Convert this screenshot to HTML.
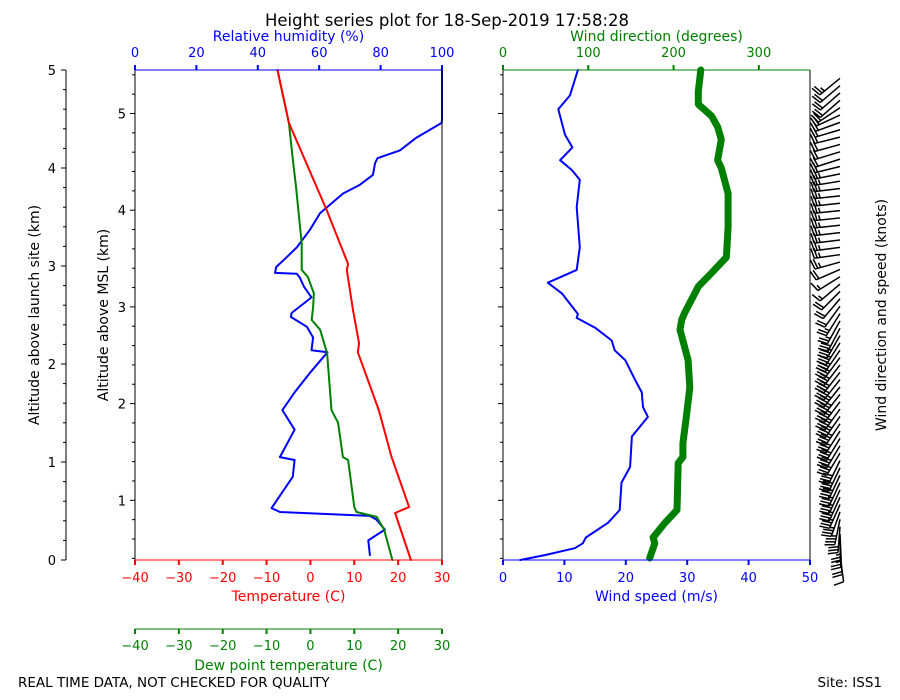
<!DOCTYPE html>
<html><head><meta charset="utf-8"><style>
body{margin:0;background:#fff}
svg{display:block;font-family:"DejaVu Sans","Liberation Sans",sans-serif}
</style></head><body>
<svg id="c" width="900" height="700" viewBox="0 0 900 700" xmlns="http://www.w3.org/2000/svg">
<text x="447" y="26" font-size="16.5" text-anchor="middle">Height series plot for 18-Sep-2019 17:58:28</text>
<text x="18" y="687" font-size="13.5">REAL TIME DATA, NOT CHECKED FOR QUALITY</text>
<text x="882" y="687" font-size="13.5" text-anchor="end">Site: ISS1</text>
<g id="g"></g>
</svg>
<script>
// Heights in km above launch site
const tH=[0,0.48,0.54,1.05,1.53,2.12,2.21,2.55,2.96,3.02,3.57,4.46,5.0];
const tV=[22.9,19.3,22.5,18.5,15.6,10.8,11.1,9.7,8.3,8.6,3.7,-4.9,-7.5];
const dH=[0,0.31,0.44,0.49,0.54,1.02,1.05,1.40,1.53,2.11,2.35,2.45,2.58,2.72,2.89,2.96,3.23,3.81,4.08,4.46,5.0];
const dV=[18.7,16.8,15.1,10.5,10,8.6,7.4,6.3,4.8,3.8,2.2,0.3,0.6,0.8,-0.6,-2,-2,-3.3,-4,-4.9,-7.5];
const rH=[0.05,0.2,0.31,0.41,0.45,0.49,0.53,0.85,1.02,1.05,1.33,1.53,1.71,1.91,2.12,2.14,2.27,2.38,2.48,2.52,2.68,2.79,2.88,2.92,2.93,2.99,3.09,3.19,3.37,3.54,3.74,3.83,3.93,4.05,4.1,4.18,4.31,4.46,4.5,5.0];
const rV=[76.5,76,81.4,78.7,76.5,47.2,44.5,51.4,52,47.2,52,48,52,57,62.7,57.5,58,56,50.8,51,57.5,55,53.7,52.7,45.6,46,49.4,52.7,57,60.3,67.8,73.3,77.5,78.2,79,86.3,91.7,99.9,100,100];
const sH=[0,0.05,0.12,0.17,0.23,0.38,0.51,0.79,0.95,1.26,1.46,1.56,1.71,1.84,2.04,2.14,2.24,2.37,2.47,2.51,2.72,2.83,2.96,3.19,3.6,3.88,3.98,4.08,4.21,4.34,4.6,4.74,5.0];
const sV=[2.8,6.8,11.7,13,13.5,17.1,19,19.3,20.7,21,23.6,22.8,22.6,21.5,19.9,18.2,17.7,15,12,12.2,9.6,7.3,12,12.5,12,12.5,11.2,9.3,11.3,10.1,9,10.9,12.2];
const wH=[0.02,0.17,0.23,0.38,0.51,0.99,1.05,1.19,1.46,1.76,2.04,2.35,2.45,2.52,2.79,2.93,3.09,3.4,3.74,4.0,4.08,4.29,4.42,4.53,4.65,4.78,5.0];
const wV=[172,178,176,190,204,205.5,211,211,215,219,217,207.5,209.5,213,229,244.6,262,264,264,256,251.6,256,251.6,244.6,229,229,232];
const tTicks=[-40,-30,-20,-10,0,10,20,30];
const rTicks=[0,20,40,60,80,100];
const sTicks=[0,10,20,30,40,50];
const wTicks=[0,100,200,300];
const aglTicks=[0,1,2,3,4,5];
const mslTicks=[1,2,3,4,5];

const NS="http://www.w3.org/2000/svg",G=document.getElementById('g');
function el(t,a,p){const e=document.createElementNS(NS,t);for(const k in a)e.setAttribute(k,a[k]);(p||G).appendChild(e);return e;}
const L0=135,L1=442,R0=503,R1=810,Y0=70,Y1=560;
const yA=h=>Y1-98*h;
const yM=m=>597-96.7*m;
const xT=v=>L0+(v+40)/70*(L1-L0);
const xR=v=>L0+v/100*(L1-L0);
const xS=v=>R0+v/50*(R1-R0);
const xW=v=>R0+v/360*(R1-R0);
function interp(H,V,h){if(h<=H[0])return V[0];for(let i=1;i<H.length;i++)if(h<=H[i]){const f=(h-H[i-1])/(H[i]-H[i-1]||1);return V[i-1]+f*(V[i]-V[i-1]);}return V[V.length-1];}

function line(x1,y1,x2,y2,c,w){return el('line',{x1,y1,x2,y2,stroke:c,'stroke-width':w||1});}
function txt(x,y,s,c,anchor,size){const t=el('text',{x,y,fill:c,'font-size':size||13,'text-anchor':anchor||'middle'});t.textContent=s;return t;}
function poly(H,V,xf,c,w,name){const p=el('polyline',{points:H.map((h,i)=>xf(V[i]).toFixed(1)+','+yA(h).toFixed(1)).join(' '),fill:'none',stroke:c,'stroke-width':w,'stroke-linejoin':'round','stroke-linecap':'round'});

return p;}

// outer AGL axis
line(66,Y0,66,Y1,'#000');
aglTicks.forEach(v=>{line(61,yA(v),66,yA(v),'#000');const t=txt(56,yA(v)+5,String(v),'#000','end');

});
for(let v=0;v<=5.001;v+=0.2)line(63,yA(v),66,yA(v),'#000');
let t=txt(0,0,'Altitude above launch site (km)','#000','middle',14);t.setAttribute('transform','translate(39,315) rotate(-90)');


t=txt(0,0,'Altitude above MSL (km)','#000','middle',14);t.setAttribute('transform','translate(108,315) rotate(-90)');


t=txt(0,0,'Wind direction and speed (knots)','#000','middle',14);t.setAttribute('transform','translate(886,315) rotate(-90)');



// left panel
poly(rH,rV,xR,'#0000ff',2,'rh-line');
poly(dH,dV,xT,'#008000',2,'dewpoint-line');
poly(tH,tV,xT,'#ff0000',2,'temperature-line');
line(L0,Y0,L0,Y1,'#000');line(L1,Y0,L1,Y1,'#000');
line(L0,Y0,L1,Y0,'#0000ff');line(L0,Y1,L1,Y1,'#ff0000');
for(let m=0.4;m<=5.41;m+=0.2){const y=yM(m);const maj=Math.abs(m-Math.round(m))<0.01;line(L0-(maj?5:3),y,L0,y,'#000');line(R0-(maj?5:3),y,R0,y,'#000');}
mslTicks.forEach(v=>{const t=txt(L0-9,yM(v)+5,String(v),'#000','end');

});
rTicks.forEach(v=>{line(xR(v),Y0-5,xR(v),Y0,'#0000ff',2);txt(xR(v),57,String(v),'#0000ff');});
txt((L0+L1)/2,41,'Relative humidity (%)','#0000ff','middle',14);
tTicks.forEach(v=>{line(xT(v),Y1,xT(v),Y1+5,'#ff0000',2);txt(xT(v),582,String(v).replace('-','−'),'#ff0000');});
txt((L0+L1)/2,601,'Temperature (C)','#ff0000','middle',14);
line(L0,629,L1,629,'#008000');
tTicks.forEach(v=>{line(xT(v),629,xT(v),634,'#008000',2);txt(xT(v),650,String(v).replace('-','−'),'#008000');});
txt((L0+L1)/2,670,'Dew point temperature (C)','#008000','middle',14);

// right panel
poly(sH,sV,xS,'#0000ff',2,'wind-speed-line');
poly(wH,wV,xW,'#008000',7,'wind-direction-line');
line(R0,Y0,R0,Y1,'#000');line(R1,Y0,R1,Y1,'#000');
line(R0,Y0,R1,Y0,'#008000');line(R0,Y1,R1,Y1,'#0000ff');
wTicks.forEach(v=>{line(xW(v),Y0-5,xW(v),Y0,'#008000',2);txt(xW(v),57,String(v),'#008000');});
txt((R0+R1)/2,41,'Wind direction (degrees)','#008000','middle',14);
sTicks.forEach(v=>{line(xS(v),Y1,xS(v),Y1+5,'#0000ff',2);txt(xS(v),582,String(v),'#0000ff');});
txt((R0+R1)/2,601,'Wind speed (m/s)','#0000ff','middle',14);

// wind barbs
const bg=el('g',{stroke:'#000','stroke-width':1.5,fill:'none'});


for(let h=0.02;h<=4.9;h+=0.075){
  const s=interp(sH,sV,h),d=interp(wH,wV,h),kt=s*1.944;
  const th=(270-d)*Math.PI/180,Lr=26;
  const y=yA(h)-2;
  const tx=840,ty=y;
  const c=Math.cos(th),sn=Math.sin(th);
  const bx=tx-Lr*c,by=ty+Lr*sn;
  el('line',{x1:bx,y1:by,x2:tx,y2:ty},bg);
  let n=Math.round(kt/5),full=Math.floor(n/2),half=n%2,k=0;
  const px=-sn,py=-c;
  for(let i=0;i<full;i++,k++){const ax=bx+c*3*k,ay=by-sn*3*k;el('line',{x1:ax,y1:ay,x2:ax+px*10-c*2,y2:ay+py*10+sn*2},bg);}
  if(half){const ax=bx+c*3*k,ay=by-sn*3*k;el('line',{x1:ax,y1:ay,x2:ax+px*5-c*1,y2:ay+py*5+sn*1},bg);}
}
</script>
</body></html>
